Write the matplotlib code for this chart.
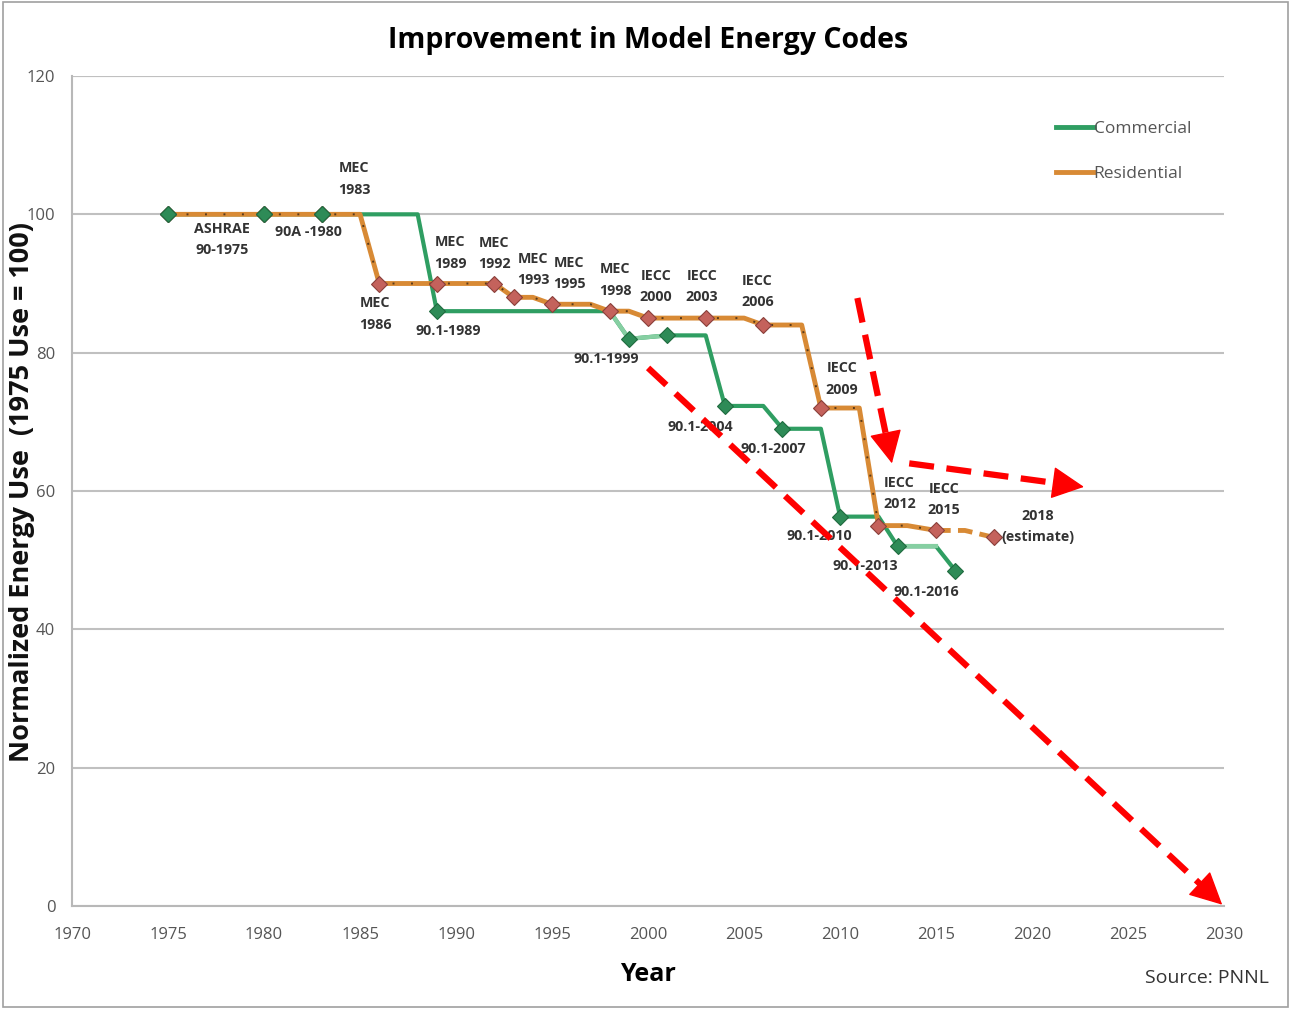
import matplotlib
matplotlib.use('Agg')
import matplotlib.pyplot as plt
from matplotlib.patches import Rectangle
from matplotlib.lines import Line2D
import numpy as np

plt.rcParams['font.family'] = ['Open Sans', 'DejaVu Sans']

# --- data ---
# code points (markers)
com_years = [1975, 1980, 1983, 1989, 1999, 2001, 2004, 2007, 2010, 2013, 2016]
com_vals = [100, 100, 100, 86, 82, 82.5, 72.3, 69, 56.3, 52, 48.5]
res_years = [1975, 1980, 1983, 1986, 1989, 1992, 1993, 1995, 1998, 2000, 2003, 2006, 2009, 2012, 2015]
res_vals = [100, 100, 100, 90, 90, 90, 88, 87, 86, 85, 85, 84, 72, 55, 54.3]
est_year = [2018]
est_val = [53.3]

# stepped line paths (corners between code points)
com_line_x = [1975, 1988, 1989, 1998, 1999, 2001, 2003, 2004, 2006, 2007, 2009, 2010, 2012, 2013, 2015, 2016]
com_line_y = [100, 100, 86, 86, 82, 82.5, 82.5, 72.3, 72.3, 69, 69, 56.3, 56.3, 52, 52, 48.5]
res_line_x = [1975, 1985, 1986, 1992, 1993, 1994, 1995, 1997, 1998, 1999, 2000, 2005, 2006, 2008, 2009, 2011, 2012, 2013.5, 2015]
res_line_y = [100, 100, 90, 90, 88, 88, 87, 87, 86, 86, 85, 85, 84, 84, 72, 72, 55, 55, 54.3]
est_line_x = [2015, 2016.5, 2018]
est_line_y = [54.3, 54.3, 53.3]

# code labels: (text, x, y)
labels = [
    ("ASHRAE\n90-1975", 1977.8, 96.3),
    ("90A -1980", 1982.3, 97.4),
    ("MEC\n1983", 1984.7, 105.1),
    ("MEC\n1986", 1985.8, 85.6),
    ("90.1-1989", 1989.6, 83.1),
    ("MEC\n1989", 1989.7, 94.4),
    ("MEC\n1992", 1992.0, 94.3),
    ("MEC\n1993", 1994.0, 92.0),
    ("MEC\n1995", 1995.9, 91.4),
    ("MEC\n1998", 1998.3, 90.5),
    ("IECC\n2000", 2000.4, 89.6),
    ("IECC\n2003", 2002.8, 89.6),
    ("IECC\n2006", 2005.7, 88.9),
    ("90.1-1999", 1997.8, 79.1),
    ("IECC\n2009", 2010.1, 76.2),
    ("90.1-2004", 2002.7, 69.2),
    ("90.1-2007", 2006.5, 66.1),
    ("IECC\n2012", 2013.1, 59.7),
    ("IECC\n2015", 2015.4, 58.8),
    ("2018\n(estimate)", 2020.3, 54.9),
    ("90.1-2010", 2008.9, 53.5),
    ("90.1-2013", 2011.3, 49.2),
    ("90.1-2016", 2014.5, 45.4),
]

# red dashed trend arrows: (start, tip)
arrows = [
    ((2000.0, 77.8), (2029.9, 0.2)),
    ((2010.9, 87.9), (2012.7, 64.0)),
    ((2013.6, 64.0), (2022.7, 60.6)),
]

x_ticks = list(range(1970, 2031, 5))
y_ticks = list(range(0, 121, 20))

GREEN = '#2f9e62'
GREEN_LT = '#86cfa2'
GREEN_MK = '#2e8b57'
ORANGE = '#d88a35'
RED_MK = '#c4625c'

fig = plt.figure(figsize=(12.91, 10.09), dpi=100)
fig.patches.append(Rectangle((0.002, 0.002), 0.996, 0.996, transform=fig.transFigure,
                             fill=False, edgecolor='#a0a0a0', lw=1.2))
ax = fig.add_axes([0.0558, 0.102, 0.8924, 0.8227])

ax.set_xlim(1970, 2030)
ax.set_ylim(0, 120)
ax.set_xticks(x_ticks)
ax.set_yticks(y_ticks)
ax.tick_params(length=0, labelsize=12, labelcolor='#555555')
ax.tick_params(axis='y', pad=12)
ax.tick_params(axis='x', pad=15)
for s in ['top', 'right']:
    ax.spines[s].set_visible(False)
for s in ['left', 'bottom']:
    ax.spines[s].set_color('#b8b8b8')
    ax.spines[s].set_linewidth(1.5)
ax.grid(axis='y', color='#c0c0c0', lw=1.5)
ax.set_axisbelow(True)
ax.axhline(120, color='#c0c0c0', lw=1.5, zorder=0)

# commercial
ax.plot(com_line_x, com_line_y, color=GREEN, lw=3, solid_joinstyle='round', zorder=3)
ax.plot(com_line_x[3:6], com_line_y[3:6], color=GREEN_LT, lw=3, solid_joinstyle='round', zorder=3)
ax.plot(com_line_x[13:15], com_line_y[13:15], color=GREEN_LT, lw=3, zorder=3)
ax.plot(com_years, com_vals, ls='none', marker='D', ms=8, mfc=GREEN_MK, mec='#1f6b3f', mew=0.8, zorder=5)

# residential
ax.plot(res_line_x, res_line_y, color=ORANGE, lw=3.5, zorder=4)
ax.plot(res_line_x, res_line_y, color='#5a3a1a', lw=1.4, ls=(0, (1, 8.5)), zorder=4)
ax.plot(est_line_x, est_line_y, color=ORANGE, lw=3.5, ls=(0, (3, 1.5)), zorder=4)
ax.plot(res_years + est_year, res_vals + est_val, ls='none', marker='D', ms=8,
        mfc=RED_MK, mec='#8a3f3a', mew=0.8, zorder=6)
# the earliest shared points look green on top
ax.plot(com_years[:3], com_vals[:3], ls='none', marker='D', ms=8, mfc=GREEN_MK, mec='#1f6b3f', mew=0.8, zorder=7)

for txt, x, y in labels:
    ax.text(x, y, txt, ha='center', va='center', fontsize=10.3, fontweight='bold',
            color='#333333', linespacing=1.65, zorder=8)

# arrows: dashed shaft, solid head of fixed pixel length
HEAD_PX = 30
for (x0, y0), (x1, y1) in arrows:
    p0 = ax.transData.transform((x0, y0))
    p1 = ax.transData.transform((x1, y1))
    d = (p1 - p0) / np.hypot(*(p1 - p0))
    pb = p1 - d * HEAD_PX
    bx, by = ax.transData.inverted().transform(pb)
    ax.plot([x0, bx], [y0, by], color='#ff0000', lw=4.5, ls=(0, (4, 2)),
            dash_capstyle='butt', clip_on=False, zorder=9)
    ax.annotate('', xy=(x1, y1), xytext=(bx, by),
                arrowprops=dict(arrowstyle='-|>,head_length=2.1,head_width=1.05',
                                color='#ff0000', lw=1, shrinkA=0, shrinkB=0),
                annotation_clip=False, zorder=9)

handles = [Line2D([], [], color=GREEN, lw=3.5), Line2D([], [], color=ORANGE, lw=3.5)]
leg = ax.legend(handles, ['Commercial', 'Residential'], loc='upper right',
                bbox_to_anchor=(0.985, 0.965), frameon=False, fontsize=12.5,
                handlelength=2.2, handletextpad=0.0, labelspacing=1.65)
for t in leg.get_texts():
    t.set_color('#555555')

ax.set_title('Improvement in Model Energy Codes', fontsize=20.5, fontweight='bold', pad=20)
ax.set_xlabel('Year', fontsize=18, fontweight='bold', labelpad=14)
# y label drawn as figure text; it overlaps the tick labels like the original
fig.text(22 / 1291, 1 - 492 / 1009, 'Normalized Energy Use  (1975 Use = 100)',
         rotation=90, ha='center', va='center', fontsize=19.5, fontweight='bold', color='#111111')
fig.text(0.983, 0.031, 'Source: PNNL', ha='right', va='center', fontsize=14, color='#333333')

fig.savefig('out.png', dpi=100)
